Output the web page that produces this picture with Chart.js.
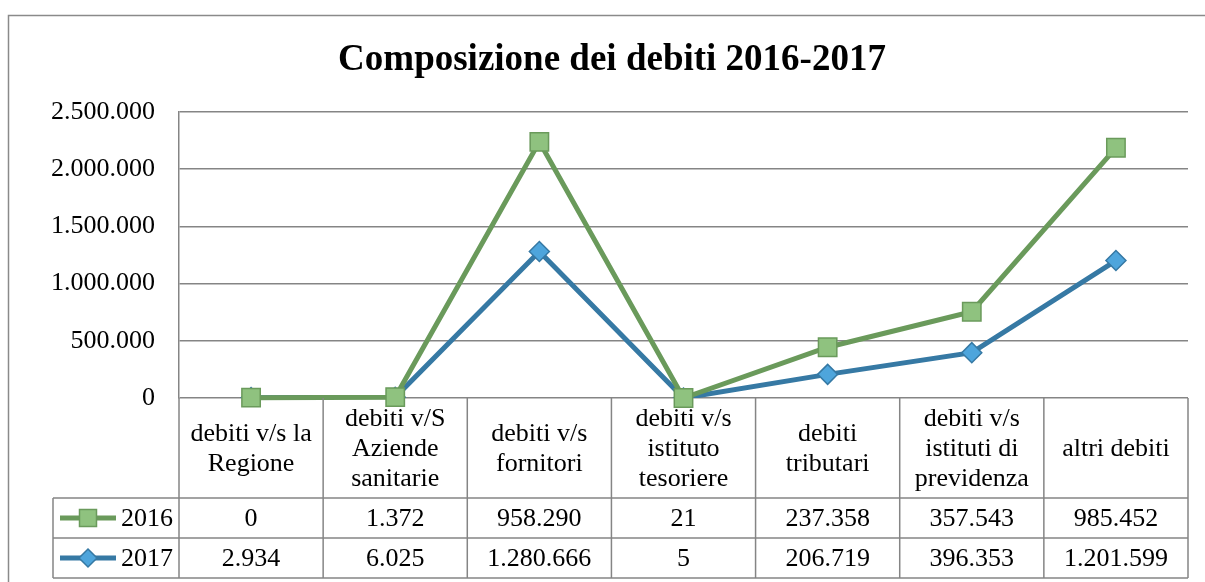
<!DOCTYPE html>
<html>
<head>
<meta charset="utf-8">
<script src="https://cdn.jsdelivr.net/npm/chart.js@4.4.1/dist/chart.umd.min.js"></script>
<style>
  html, body { margin: 0; padding: 0; background: #fff; }
  #wrap { width: 1205px; height: 582px; position: relative; }
</style>
</head>
<body>
<div id="wrap"><canvas id="c" width="1205" height="582"></canvas></div>
<script>
const title = 'Composizione dei debiti 2016-2017';
const categories = [
  ['debiti v/s la', 'Regione'],
  ['debiti v/S', 'Aziende', 'sanitarie'],
  ['debiti v/s', 'fornitori'],
  ['debiti v/s', 'istituto', 'tesoriere'],
  ['debiti', 'tributari'],
  ['debiti v/s', 'istituti di', 'previdenza'],
  ['altri debiti']
];
const seriesNames = ['2016', '2017'];
const values2016 = [0, 1372, 958290, 21, 237358, 357543, 985452];
const values2017 = [2934, 6025, 1280666, 5, 206719, 396353, 1201599];
const yTicks = [0, 500000, 1000000, 1500000, 2000000, 2500000];

const fmt = v => String(Math.round(v)).replace(/\B(?=(\d{3})+(?!\d))/g, '.');

const GREEN_LINE = '#6a9a5b', GREEN_FILL = '#8fc27f';
const BLUE_LINE = '#3679a4', BLUE_FILL = '#4ea5dc';
const GRID = '#858585';
const FONT = '"Liberation Serif", "Times New Roman", serif';

const L = 179, R = 1188, TOP = 112, ZERO = 398;
const HEAD_B = 498, ROW1_B = 538, ROW2_B = 578, LEG_L = 53;

const tablePlugin = {
  id: 'tablePlugin',
  beforeDraw(chart) {
    const ctx = chart.ctx;
    ctx.save();
    ctx.strokeStyle = '#8a8a8a';
    ctx.lineWidth = 1.5;
    ctx.strokeRect(8.5, 15.5, 1205, 600);
    ctx.fillStyle = '#000';
    ctx.font = 'bold 37px ' + FONT;
    ctx.textAlign = 'center';
    ctx.textBaseline = 'alphabetic';
    ctx.fillText(title, 612, 70);
    ctx.restore();
  },
  beforeDatasetDraw(chart, args) {
    // draw the 2016 series last so that it sits on top, as in the reference
    if (args.meta.label === seriesNames[0] && !chart.$drawingTop) return false;
  },
  afterDatasetsDraw(chart) {
    const meta = chart.getSortedVisibleDatasetMetas().find(m => m.label === seriesNames[0]);
    if (meta) {
      chart.$drawingTop = true;
      meta.controller.draw();
      chart.$drawingTop = false;
    }
  },
  afterDraw(chart) {
    const ctx = chart.ctx;
    const xs = chart.scales.x;
    const n = categories.length;
    const colW = (xs.getPixelForValue(1) - xs.getPixelForValue(0));
    ctx.save();
    ctx.strokeStyle = GRID;
    ctx.lineWidth = 1.5;
    for (let i = 0; i <= n; i++) {
      const x = xs.getPixelForValue(i) - colW / 2;
      ctx.beginPath(); ctx.moveTo(x, ZERO); ctx.lineTo(x, ROW2_B); ctx.stroke();
    }
    ctx.beginPath(); ctx.moveTo(LEG_L, HEAD_B); ctx.lineTo(LEG_L, ROW2_B); ctx.stroke();
    [HEAD_B, ROW1_B, ROW2_B].forEach(y => {
      ctx.beginPath(); ctx.moveTo(LEG_L, y); ctx.lineTo(xs.getPixelForValue(n - 1) + colW / 2, y); ctx.stroke();
    });
    ctx.fillStyle = '#000';
    ctx.font = '26px ' + FONT;
    ctx.textAlign = 'center';
    ctx.textBaseline = 'middle';
    const hc = (ZERO + HEAD_B) / 2 + 1;
    categories.forEach((lines, i) => {
      const x = xs.getPixelForValue(i);
      const lh = 30;
      lines.forEach((t, j) => {
        ctx.fillText(t, x, hc + (j - (lines.length - 1) / 2) * lh);
      });
    });
    const rows = [values2016, values2017];
    const rowC = [(HEAD_B + ROW1_B) / 2 + 1, (ROW1_B + ROW2_B) / 2 + 1];
    rows.forEach((vals, r) => {
      vals.forEach((v, i) => ctx.fillText(fmt(v), xs.getPixelForValue(i), rowC[r]));
    });
    ctx.textAlign = 'right';
    rowC.forEach((y, r) => {
      ctx.fillText(seriesNames[r], 173, y);
      const line = r === 0 ? GREEN_LINE : BLUE_LINE;
      const fill = r === 0 ? GREEN_FILL : BLUE_FILL;
      ctx.strokeStyle = line;
      ctx.lineWidth = 5;
      ctx.beginPath(); ctx.moveTo(60, y - 1); ctx.lineTo(116, y - 1); ctx.stroke();
      ctx.fillStyle = fill;
      ctx.lineWidth = 1.5;
      ctx.beginPath();
      if (r === 0) {
        ctx.rect(79.5, y - 9.5, 17, 17);
      } else {
        ctx.moveTo(88, y - 10); ctx.lineTo(97, y - 1); ctx.lineTo(88, y + 8); ctx.lineTo(79, y - 1); ctx.closePath();
      }
      ctx.fill(); ctx.stroke();
      ctx.fillStyle = '#000';
    });
    ctx.restore();
  }
};

new Chart(document.getElementById('c'), {
  type: 'line',
  data: {
    labels: categories.map(c => c.join(' ')),
    datasets: [
      {
        label: seriesNames[1], data: values2017,
        borderColor: BLUE_LINE, borderWidth: 5,
        pointStyle: 'rectRot', pointRadius: 10, pointBackgroundColor: BLUE_FILL,
        pointBorderColor: BLUE_LINE, pointBorderWidth: 1.5,
        tension: 0, fill: false, order: 1
      },
      {
        label: seriesNames[0], data: values2016,
        borderColor: GREEN_LINE, borderWidth: 5,
        pointStyle: 'rect', pointRadius: 13, pointBackgroundColor: GREEN_FILL,
        pointBorderColor: GREEN_LINE, pointBorderWidth: 1.5,
        tension: 0, fill: false, order: 2
      }
    ]
  },
  options: {
    responsive: false,
    animation: false,
    devicePixelRatio: 1,
    layout: { padding: { left: 0, right: 1205 - R, top: TOP, bottom: 582 - ZERO } },
    plugins: { legend: { display: false }, title: { display: false }, tooltip: { enabled: false } },
    scales: {
      x: { type: 'category', display: false, offset: true },
      y: {
        stacked: true,
        min: 0, max: 2500000,
        afterBuildTicks: s => { s.ticks = yTicks.map(v => ({ value: v })); },
        afterFit: s => { s.width = L; },
        grid: { color: GRID, lineWidth: 1.5, drawTicks: false },
        border: { display: true, color: GRID, width: 1.5 },
        ticks: {
          padding: 24, color: '#000',
          font: { family: FONT, size: 26 },
          callback: v => fmt(v)
        }
      }
    }
  },
  plugins: [tablePlugin]
});
</script>
</body>
</html>
